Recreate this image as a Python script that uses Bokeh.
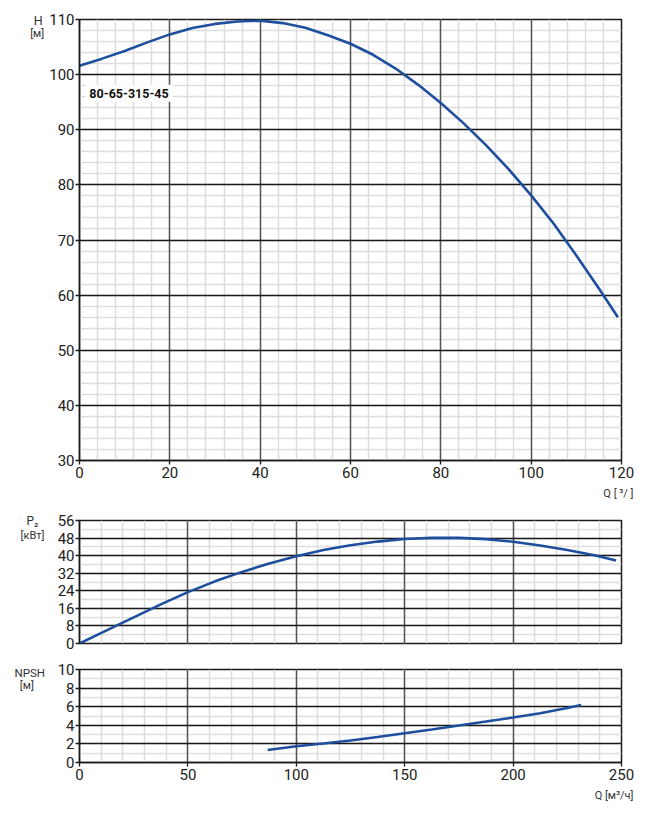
from bokeh.plotting import figure
from bokeh.layouts import column, row
from bokeh.models import SingleIntervalTicker, Label, Range1d, Grid
from bokeh.core.properties import value
from bokeh.embed import file_html
from bokeh.resources import INLINE

# ---------------- data ----------------
model_name = "80-65-315-45"

q_head = [0, 5, 10, 15, 20, 25, 30, 35, 40, 45, 50, 55, 60, 65, 70, 75, 80,
          85, 90, 95, 100, 105, 110, 115, 119.2]
head = [101.6, 102.9, 104.3, 105.85, 107.3, 108.45, 109.2, 109.65, 109.8,
        109.35, 108.5, 107.15, 105.6, 103.6, 101.1, 98.15, 94.85, 91.2, 87.2,
        82.85, 78.1, 72.95, 67.2, 61.2, 56.0]

q_power = [0, 12.5, 25, 37.5, 50, 62.5, 75, 87.5, 100, 112.5, 125, 137.5, 150,
           162.5, 175, 187.5, 200, 212.5, 225, 237.5, 247.5]
power = [0, 6.0, 11.9, 17.8, 23.4, 28.3, 32.6, 36.4, 39.7, 42.6, 44.7, 46.4,
         47.6, 48.1, 48.1, 47.5, 46.3, 44.6, 42.6, 40.2, 37.8]

q_npsh = [86.8, 100, 112.5, 125, 137.5, 150, 162.5, 175, 187.5, 200, 212.5,
          225, 231.4]
npsh = [1.35, 1.75, 2.05, 2.37, 2.75, 3.15, 3.55, 3.97, 4.4, 4.84, 5.3, 5.85,
        6.18]

head_label = ["H", "[м]"]
power_label = ["P₂", "[кВт]"]
npsh_label = ["NPSH", "[м]"]
q_label_top = "Q [ ³/ ]"
q_label_bottom = "Q [м³/ч]"

FONT = "Roboto"
BLUE = "#1d4f9e"
TXT = "#333333"
LAB_W = 46
MAIN_W = 658 - LAB_W


def make_fig(height, top, bottom, xr, yr, xint, xminor, yint, yminor, show_x):
    p = figure(width=MAIN_W, height=height, x_range=Range1d(*xr),
               y_range=Range1d(*yr), output_backend="svg",
               toolbar_location=None, min_border_left=33,
               min_border_right=37, min_border_top=top,
               min_border_bottom=bottom)
    p.background_fill_color = "white"
    p.border_fill_color = "white"
    p.outline_line_color = "#1a1a1a"
    p.outline_line_width = 1.5

    xt = SingleIntervalTicker(interval=xint, num_minor_ticks=xminor)
    yt = SingleIntervalTicker(interval=yint, num_minor_ticks=yminor)
    p.xaxis.ticker = xt
    p.yaxis.ticker = yt
    p.xgrid.ticker = xt
    p.ygrid.ticker = yt
    for g in (p.xgrid, p.ygrid):
        g.grid_line_color = None
        g.minor_grid_line_color = "#dddddd"
        g.minor_grid_line_width = 1.5
    gx = Grid(dimension=0, ticker=xt, grid_line_color="#555555",
              grid_line_width=1.5)
    gy = Grid(dimension=1, ticker=yt, grid_line_color="#1a1a1a",
              grid_line_width=1.3)
    p.add_layout(gx)
    p.add_layout(gy)

    for ax in (p.xaxis, p.yaxis):
        ax.axis_line_color = "#1a1a1a"
        ax.axis_line_width = 1.5
        ax.major_tick_line_color = "#1a1a1a"
        ax.major_tick_line_width = 1.3
        ax.major_tick_out = 4
        ax.major_tick_in = 0
        ax.minor_tick_line_color = None
        ax.major_label_text_font = FONT
        ax.major_label_text_font_size = "15px"
        ax.major_label_text_color = "#222222"
    p.yaxis.major_label_standoff = 1
    p.xaxis.major_label_standoff = 2
    if not show_x:
        p.xaxis.visible = False
    return p


def text_fig(width, height, xs, ys, texts, aligns, sizes):
    # plain text panel; y measured in pixels from the panel's top edge
    f = figure(width=width, height=height,
               x_range=Range1d(0, width), y_range=Range1d(0, height),
               output_backend="svg", toolbar_location=None, min_border=0,
               x_axis_type=None, y_axis_type=None, sizing_mode="fixed")
    f.title = None
    f.outline_line_color = None
    f.background_fill_color = "white"
    f.border_fill_color = "white"
    for x, y, t, a, s in zip(xs, ys, texts, aligns, sizes):
        f.text(x=[x], y=[height - y], text=[t], text_align=a,
               text_baseline="middle", text_font=value(FONT),
               text_font_size=value(s), text_color=TXT)
    return f


p1 = make_fig(486, 19, 26, (0, 120), (30, 110), 20, 5, 10, 5, True)
p1.line(q_head, head, line_color=BLUE, line_width=2.6)
name_lab = Label(x=1.3, y=96.6, text=model_name, text_align="left",
                 text_baseline="middle", text_font=FONT,
                 text_font_size="12.5px", text_font_style="bold",
                 text_color="#111111", background_fill_color="white",
                 padding=4)
p1.add_layout(name_lab)
lab1 = text_fig(LAB_W, 486, [37.7, 36.7], [19.5, 33], head_label,
                ["center", "center"], ["12.5px", "11px"])
strip1 = text_fig(658, 19, [633], [6.5], [q_label_top], ["right"], ["11px"])

p2 = make_fig(148, 15, 10, (0, 250), (0, 56), 50, 5, 8, 2, False)
p2.line(q_power, power, line_color=BLUE, line_width=2.6)
lab2 = text_fig(LAB_W, 148, [32, 32], [15, 30], power_label,
                ["center", "center"], ["12px", "11px"])

p3 = make_fig(135, 16, 26, (0, 250), (0, 10), 50, 5, 2, 2, True)
p3.line(q_npsh, npsh, line_color=BLUE, line_width=2.6)
lab3 = text_fig(LAB_W, 135, [29.2, 26.3], [19.5, 32], npsh_label,
                ["center", "center"], ["11.5px", "11px"])
strip3 = text_fig(658, 28, [633], [6.5], [q_label_bottom], ["right"],
                  ["11px"])


def side(lab, main):
    # wrap each plot in its own column so that the row does not align the
    # label panel's frame with the chart's frame
    return row(column(lab, spacing=0), column(main, spacing=0), spacing=0)


layout = column(side(lab1, p1), strip1, side(lab2, p2), side(lab3, p3),
                strip3, spacing=0)
open("out.html", "w").write(file_html(layout, INLINE))
